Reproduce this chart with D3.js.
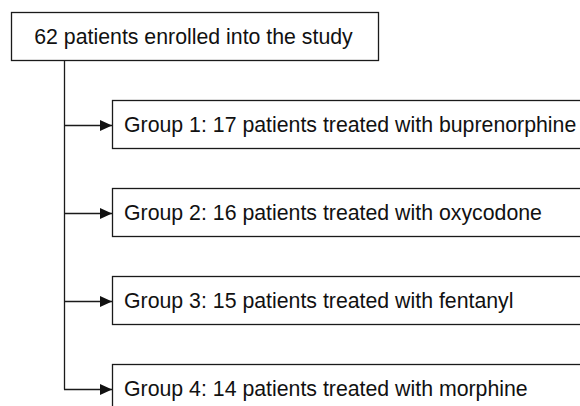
<!DOCTYPE html>
<html>
<head>
  <meta charset='utf-8'>
  <script src="https://d3js.org/d3.v7.min.js"></script>
  <style>
    body { margin: 0; background: #fff; overflow: hidden; }
    svg { display: block; overflow: hidden; }
    text { font-family: 'Liberation Sans', Arial, sans-serif; font-size: 21.3px; fill: #111; }
  </style>
</head>
<body>
  <script type='text/javascript'>
    // Flow data
    var enrolled = 62;
    var groupNames = ['Group 1', 'Group 2', 'Group 3', 'Group 4'];
    var groupCounts = [17, 16, 15, 14];
    var drugs = ['buprenorphine', 'oxycodone', 'fentanyl', 'morphine'];

    var width = 580, height = 406;

    var svg = d3.select('body')
      .append('svg')
      .attr('width', width)
      .attr('height', height);

    // arrowhead
    svg.append('defs').append('marker')
      .attr('id', 'arrow')
      .attr('viewBox', '0 0 12 12')
      .attr('refX', 12)
      .attr('refY', 6)
      .attr('markerWidth', 12)
      .attr('markerHeight', 12)
      .attr('markerUnits', 'userSpaceOnUse')
      .attr('orient', 'auto')
      .append('path')
      .attr('d', 'M0,0.5L12,6L0,11.5Z')
      .attr('fill', '#111');

    // rows: root box then one per group
    var rows = d3.range(groupNames.length + 1);
    var y = d3.scaleBand()
      .domain(rows)
      .range([12, 412])
      .paddingInner(40 / 88);

    var rootX = 11, rootW = 367;
    var trunkX = 64, boxX = 112, boxW = 540;

    var stroke = '#1a1a1a';

    // root box
    svg.append('rect')
      .attr('x', rootX + 0.5)
      .attr('y', y(0) + 0.5)
      .attr('width', rootW)
      .attr('height', y.bandwidth())
      .attr('fill', '#fff')
      .attr('stroke', stroke)
      .attr('stroke-width', 1.3);

    svg.append('text')
      .attr('x', rootX + rootW / 2 - 1)
      .attr('y', y(0) + y.bandwidth() / 2 + 7.5)
      .attr('text-anchor', 'middle')
      .text(enrolled + ' patients enrolled into the study');

    var mid = function(i) { return y(i + 1) + y.bandwidth() / 2 + 1; };

    // vertical trunk
    svg.append('line')
      .attr('x1', trunkX + 0.5)
      .attr('x2', trunkX + 0.5)
      .attr('y1', y(0) + y.bandwidth())
      .attr('y2', mid(groupNames.length - 1) + 0.5)
      .attr('stroke', stroke)
      .attr('stroke-width', 1.3);

    var g = svg.selectAll('g.group')
      .data(groupNames)
      .enter()
      .append('g')
      .attr('class', 'group');

    // arrows
    g.append('line')
      .attr('x1', trunkX)
      .attr('x2', boxX)
      .attr('y1', function(d, i) { return mid(i) + 0.5; })
      .attr('y2', function(d, i) { return mid(i) + 0.5; })
      .attr('stroke', stroke)
      .attr('stroke-width', 1.3)
      .attr('marker-end', 'url(#arrow)');

    // group boxes (run off the right edge)
    g.append('rect')
      .attr('x', boxX + 0.5)
      .attr('y', function(d, i) { return y(i + 1) + 0.5; })
      .attr('width', boxW)
      .attr('height', y.bandwidth())
      .attr('fill', '#fff')
      .attr('stroke', stroke)
      .attr('stroke-width', 1.3);

    g.append('text')
      .attr('x', boxX + 12)
      .attr('y', function(d, i) { return y(i + 1) + y.bandwidth() / 2 + 7.5; })
      .text(function(d, i) {
        return d + ': ' + groupCounts[i] + ' patients treated with ' + drugs[i];
      });
  </script>
</body>
</html>
